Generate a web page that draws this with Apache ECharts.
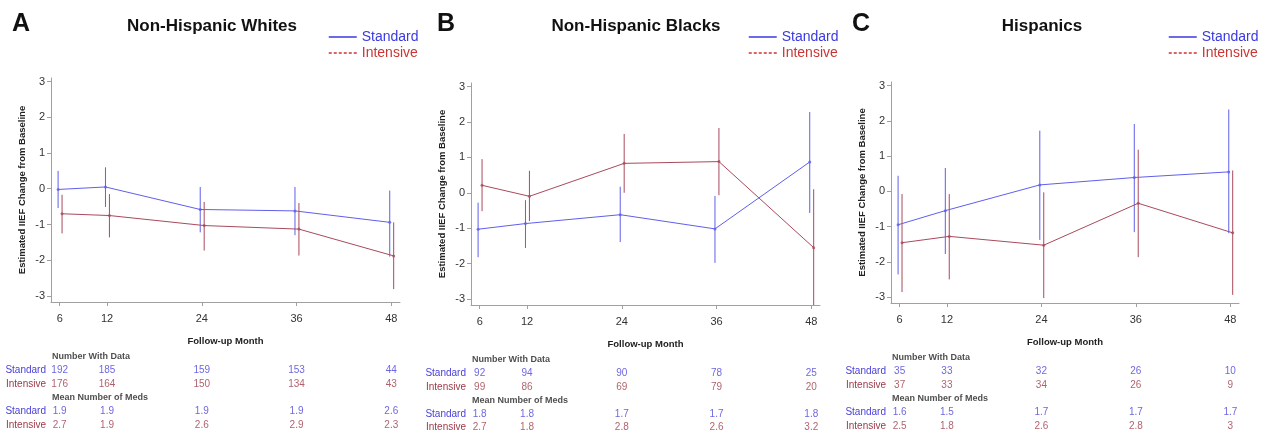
<!DOCTYPE html>
<html><head><meta charset="utf-8">
<script src="https://cdn.jsdelivr.net/npm/echarts@6/dist/echarts.min.js"></script>
<style>html,body{margin:0;padding:0;background:#fff}#c{width:1268px;height:434px}</style>
</head><body><div id="c"></div>
<script>
const months = [6, 12, 24, 36, 48];
const yTicks = [-3, -2, -1, 0, 1, 2, 3];
const panelLetters = ['A', 'B', 'C'];
const panelTitles = ['Non-Hispanic Whites', 'Non-Hispanic Blacks', 'Hispanics'];
const seriesNames = ['Standard', 'Intensive'];
const rowLabels = ['', 'Standard', 'Intensive', '', 'Standard', 'Intensive'];
const tableHeaders = ['Number With Data', 'Mean Number of Meds'];

// Panel A: Non-Hispanic Whites
const whitesStdMean = [-0.02, 0.05, -0.58, -0.62, -0.94];
const whitesStdLow  = [-0.54, -0.51, -1.22, -1.30, -1.90];
const whitesStdHigh = [0.50, 0.60, 0.05, 0.05, -0.05];
const whitesIntMean = [-0.70, -0.75, -1.03, -1.13, -1.88];
const whitesIntLow  = [-1.25, -1.36, -1.73, -1.87, -2.81];
const whitesIntHigh = [-0.17, -0.15, -0.37, -0.40, -0.94];
const whitesStdN = [192, 185, 159, 153, 44];
const whitesIntN = [176, 164, 150, 134, 43];
const whitesStdMeds = [1.9, 1.9, 1.9, 1.9, 2.6];
const whitesIntMeds = [2.7, 1.9, 2.6, 2.9, 2.3];

// Panel B: Non-Hispanic Blacks
const blacksStdMean = [-1.03, -0.87, -0.62, -1.02, 0.87];
const blacksStdLow  = [-1.82, -1.56, -1.39, -1.98, -0.57];
const blacksStdHigh = [-0.28, -0.21, 0.17, -0.09, 2.28];
const blacksIntMean = [0.21, -0.10, 0.83, 0.88, -1.55];
const blacksIntLow  = [-0.52, -0.80, 0.00, -0.07, -3.18];
const blacksIntHigh = [0.95, 0.62, 1.66, 1.83, 0.10];
const blacksStdN = [92, 94, 90, 78, 25];
const blacksIntN = [99, 86, 69, 79, 20];
const blacksStdMeds = [1.8, 1.8, 1.7, 1.7, 1.8];
const blacksIntMeds = [2.7, 1.8, 2.8, 2.6, 3.2];

// Panel C: Hispanics
const hispStdMean = [-0.95, -0.55, 0.18, 0.39, 0.55];
const hispStdLow  = [-2.36, -1.78, -1.38, -1.16, -1.19];
const hispStdHigh = [0.44, 0.66, 1.72, 1.91, 2.32];
const hispIntMean = [-1.46, -1.28, -1.53, -0.34, -1.18];
const hispIntLow  = [-2.86, -2.50, -3.03, -1.87, -2.94];
const hispIntHigh = [-0.08, -0.08, -0.03, 1.18, 0.59];
const hispStdN = [35, 33, 32, 26, 10];
const hispIntN = [37, 33, 34, 26, 9];
const hispStdMeds = [1.6, 1.5, 1.7, 1.7, 1.7];
const hispIntMeds = [2.5, 1.8, 2.6, 2.8, 3];

const panelData = [
  {std: [whitesStdMean, whitesStdLow, whitesStdHigh], int: [whitesIntMean, whitesIntLow, whitesIntHigh],
   n: [whitesStdN, whitesIntN], meds: [whitesStdMeds, whitesIntMeds]},
  {std: [blacksStdMean, blacksStdLow, blacksStdHigh], int: [blacksIntMean, blacksIntLow, blacksIntHigh],
   n: [blacksStdN, blacksIntN], meds: [blacksStdMeds, blacksIntMeds]},
  {std: [hispStdMean, hispStdLow, hispStdHigh], int: [hispIntMean, hispIntLow, hispIntHigh],
   n: [hispStdN, hispIntN], meds: [hispStdMeds, hispIntMeds]}
];

// layout (pixels) per panel
const layout = [
  {left: 51, top: 78, width: 349, height: 224, tableTop: 350, letterX: 12, titleX: 212, legendX: 328},
  {left: 471, top: 83, width: 349, height: 222, tableTop: 353, letterX: 437, titleX: 636, legendX: 748},
  {left: 891, top: 82, width: 348, height: 221, tableTop: 351, letterX: 852, titleX: 1042, legendX: 1168}
];
const X_MIN = 4.9, X_MAX = 49.1, Y_MIN = -3.17, Y_MAX = 3.1;
const DODGE = [-0.2, 0.3];
const LINE_COLORS = ['#5f5fec', '#a84a5c'];
const LEGEND_COLORS = ['#3a3ae0', '#cc3434'];
const TABLE_COLORS = ['#4a40d8', '#9c3848'];
const SANS = '"Liberation Sans", Arial, Helvetica, sans-serif';

const grid = [], xAxis = [], yAxis = [], series = [], title = [], legend = [];

layout.forEach((L, p) => {
  grid.push({left: L.left, top: L.top, width: L.width, height: L.height, containLabel: false});
  grid.push({left: L.left, top: L.tableTop, width: L.width, height: 82, containLabel: false});
  const gPlot = p * 2, gTab = p * 2 + 1;

  xAxis.push({
    type: 'value', gridIndex: gPlot, min: X_MIN, max: X_MAX,
    name: 'Follow-up Month', nameLocation: 'middle', nameGap: 34,
    nameTextStyle: {fontFamily: SANS, fontWeight: 'bold', fontSize: 9.5, color: '#222'},
    axisLine: {onZero: false, lineStyle: {color: '#a0a0a0', width: 1}},
    axisTick: {show: true, length: 4, lineStyle: {color: '#a0a0a0'}, customValues: months},
    axisLabel: {fontFamily: SANS, fontSize: 11, color: '#333', margin: 11, customValues: months},
    splitLine: {show: false}
  });
  xAxis.push({type: 'value', gridIndex: gTab, min: X_MIN, max: X_MAX, show: false});
  yAxis.push({
    type: 'value', gridIndex: gPlot, min: Y_MIN, max: Y_MAX,
    name: 'Estimated IIEF Change from Baseline', nameLocation: 'middle', nameGap: 24, nameRotate: 90,
    nameTextStyle: {fontFamily: SANS, fontWeight: 'bold', fontSize: 9.5, color: '#222'},
    axisLine: {show: true, onZero: false, lineStyle: {color: '#a0a0a0', width: 1}},
    axisTick: {show: true, length: 4, lineStyle: {color: '#a0a0a0'}, customValues: yTicks},
    axisLabel: {fontFamily: SANS, fontSize: 11, color: '#333', margin: 6, customValues: yTicks},
    splitLine: {show: false}
  });
  yAxis.push({
    type: 'category', gridIndex: gTab, inverse: true, data: rowLabels.map((_, i) => 'r' + i),
    axisLine: {show: false}, axisTick: {show: false}, splitLine: {show: false},
    axisLabel: {
      interval: 0, margin: 5, fontFamily: SANS, fontSize: 10,
      formatter: (v) => {
        const lab = rowLabels[+v.slice(1)];
        if (!lab) return '';
        return '{' + (lab === 'Standard' ? 's' : 'i') + '|' + lab + '}';
      },
      rich: {
        s: {color: TABLE_COLORS[0], fontFamily: SANS, fontSize: 10},
        i: {color: TABLE_COLORS[1], fontFamily: SANS, fontSize: 10}
      }
    }
  });

  const D = panelData[p];
  [D.std, D.int].forEach((arr, k) => {
    const [mean, low, high] = arr;
    const col = LINE_COLORS[k];
    series.push({
      type: 'line', name: seriesNames[k], xAxisIndex: gPlot, yAxisIndex: gPlot,
      data: months.map((m, i) => [m + DODGE[k], mean[i]]),
      symbol: 'none', lineStyle: {color: col, width: 1}, itemStyle: {color: col},
      silent: true, animation: false, z: 3
    });
    series.push({
      type: 'scatter', name: seriesNames[k] + ' mean', xAxisIndex: gPlot, yAxisIndex: gPlot,
      data: months.map((m, i) => [m + DODGE[k], mean[i]]),
      symbol: 'circle', symbolSize: 3, itemStyle: {color: col},
      silent: true, animation: false, z: 4
    });
    series.push({
      type: 'custom', name: seriesNames[k] + ' CI', xAxisIndex: gPlot, yAxisIndex: gPlot,
      data: months.map((m, i) => [m + DODGE[k], low[i], high[i]]),
      encode: {x: 0, y: [1, 2]}, clip: true,
      renderItem: (params, api) => {
        const a = api.coord([api.value(0), api.value(1)]);
        const b = api.coord([api.value(0), api.value(2)]);
        return {type: 'line', shape: {x1: a[0], y1: a[1], x2: b[0], y2: b[1]},
                style: {stroke: col, lineWidth: 1}};
      },
      silent: true, animation: false, z: 2
    });
  });

  const rows = [[1, D.n[0], 0], [2, D.n[1], 1], [4, D.meds[0], 0], [5, D.meds[1], 1]];
  rows.forEach(([r, vals, k]) => {
    series.push({
      type: 'scatter', xAxisIndex: gTab, yAxisIndex: gTab, symbolSize: 0, silent: true, animation: false,
      data: months.map((m, i) => [m, 'r' + r, vals[i]]),
      label: {show: true, position: 'inside', formatter: (q) => String(q.value[2]),
              fontFamily: SANS, fontSize: 10, color: TABLE_COLORS[k]}
    });
  });
  series.push({
    type: 'scatter', xAxisIndex: gTab, yAxisIndex: gTab, symbolSize: 0, silent: true, animation: false,
    data: [[X_MIN, 'r0', tableHeaders[0]], [X_MIN, 'r3', tableHeaders[1]]],
    label: {show: true, position: 'right', distance: 1, formatter: (q) => q.value[2],
            fontFamily: SANS, fontWeight: 'bold', fontSize: 9, color: '#222'}
  });

  title.push({text: panelLetters[p], left: L.letterX, top: 12, padding: 0,
              textStyle: {fontFamily: SANS, fontWeight: 'bold', fontSize: 25, color: '#111'}});
  title.push({text: panelTitles[p], left: L.titleX, top: 18, padding: 0, textAlign: 'center',
              textStyle: {fontFamily: SANS, fontWeight: 'bold', fontSize: 17, color: '#111'}});

  legend.push({
    left: L.legendX, top: 30, orient: 'vertical', itemWidth: 28, itemHeight: 14, itemGap: 2, padding: 0,
    selectedMode: false,
    textStyle: {fontFamily: SANS, fontSize: 14},
    data: [
      {name: 'Standard', textStyle: {color: LEGEND_COLORS[0]},
       itemStyle: {color: 'rgba(0,0,0,0)', borderWidth: 0, opacity: 0},
       lineStyle: {color: LEGEND_COLORS[0], width: 1.5, type: 'solid'}},
      {name: 'Intensive', textStyle: {color: LEGEND_COLORS[1]},
       itemStyle: {color: 'rgba(0,0,0,0)', borderWidth: 0, opacity: 0},
       lineStyle: {color: LEGEND_COLORS[1], width: 1.5, type: [3, 2]}}
    ]
  });
});

const chart = echarts.init(document.getElementById('c'), null, {renderer: 'canvas'});
chart.setOption({animation: false, backgroundColor: '#fff', grid, xAxis, yAxis, series, title, legend});
</script>
</body></html>
